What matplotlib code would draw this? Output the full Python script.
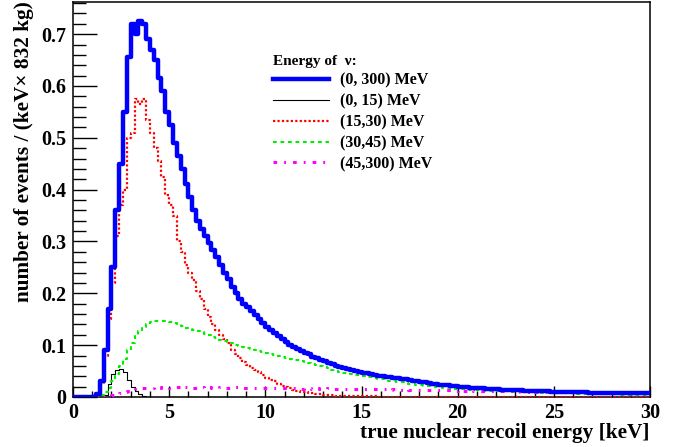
import numpy as np
import matplotlib
matplotlib.use("Agg")
import matplotlib.pyplot as plt
from matplotlib.ticker import MultipleLocator

# 0.2 keV bins from 0 to 30 keV
edges = np.linspace(0, 30, 151)

# total (0, 300) MeV
total = [
    0, 0, 0, 0, 0, 0, 0.005, 0.03, 0.09, 0.17,
    0.25, 0.36, 0.45, 0.55, 0.655, 0.72, 0.70, 0.725, 0.72, 0.69,
    0.67, 0.65, 0.615, 0.59, 0.55, 0.525, 0.49, 0.465, 0.44, 0.41,
    0.385, 0.36, 0.34, 0.325, 0.31, 0.297, 0.284, 0.27, 0.255, 0.24,
    0.228, 0.212, 0.2, 0.19, 0.18, 0.173, 0.165, 0.158, 0.15, 0.142,
    0.135, 0.129, 0.123, 0.117, 0.111, 0.106, 0.101, 0.097, 0.093, 0.089,
    0.085, 0.082, 0.078, 0.075, 0.072, 0.069, 0.066, 0.063, 0.06, 0.058,
    0.056, 0.054, 0.052, 0.05, 0.048, 0.047, 0.046, 0.044, 0.043, 0.041,
    0.04, 0.039, 0.038, 0.037, 0.036, 0.035, 0.034, 0.032, 0.031, 0.030,
    0.029, 0.028, 0.027, 0.026, 0.025, 0.024, 0.023, 0.023, 0.022, 0.021,
    0.020, 0.020, 0.019, 0.018, 0.018, 0.017, 0.017, 0.016, 0.016, 0.015,
    0.015, 0.014, 0.014, 0.014, 0.013, 0.013, 0.013, 0.012, 0.012, 0.012,
    0.011, 0.011, 0.011, 0.011, 0.010, 0.010, 0.010, 0.010, 0.0095, 0.0095,
    0.009, 0.009, 0.009, 0.009, 0.0085, 0.0085, 0.0085, 0.008, 0.008, 0.008,
    0.008, 0.0078, 0.0076, 0.0075, 0.0074, 0.0073, 0.0072, 0.0071, 0.007, 0.007,
]

# (0, 15) MeV
nu_0_15 = [
    0, 0, 0, 0, 0, 0, 0, 0, 0.003, 0.025,
    0.045, 0.052, 0.054, 0.048, 0.033, 0.02, 0.011, 0.005, 0.001, 0,
] + [0] * 130

# (15, 30) MeV
nu_15_30 = [
    0, 0, 0, 0, 0, 0, 0.004, 0.025, 0.08, 0.15,
    0.22, 0.31, 0.37, 0.40, 0.50, 0.51, 0.575, 0.565, 0.575, 0.535,
    0.51, 0.48, 0.455, 0.425, 0.39, 0.37, 0.35, 0.30, 0.28, 0.255,
    0.24, 0.225, 0.205, 0.19, 0.17, 0.155, 0.14, 0.13, 0.12, 0.112,
    0.105, 0.09, 0.082, 0.075, 0.068, 0.062, 0.056, 0.052, 0.048, 0.042,
    0.036, 0.033, 0.03, 0.025, 0.022, 0.02, 0.017, 0.014, 0.012, 0.010,
    0.009, 0.008, 0.007, 0.006, 0.005, 0.004, 0.0035, 0.003, 0.0025, 0.002,
    0.0018, 0.0016, 0.0015, 0.0014, 0.0013, 0.0012, 0.0011, 0.001, 0.001, 0.0009,
    0.0008, 0.0008, 0.0007, 0.0007, 0.0006, 0.0006, 0.0005, 0.0005, 0.0005, 0.0004,
] + [0.0003] * 60

# (30, 45) MeV
nu_30_45 = [
    0, 0, 0, 0, 0, 0, 0, 0.003, 0.01, 0.018,
    0.03, 0.045, 0.06, 0.074, 0.09, 0.105, 0.118, 0.128, 0.136, 0.141,
    0.144, 0.146, 0.147, 0.147, 0.146, 0.144, 0.142, 0.14, 0.137, 0.134,
    0.132, 0.13, 0.127, 0.125, 0.122, 0.119, 0.116, 0.113, 0.11, 0.108,
    0.106, 0.104, 0.101, 0.099, 0.097, 0.095, 0.093, 0.091, 0.089, 0.087,
    0.085, 0.083, 0.081, 0.079, 0.077, 0.075, 0.074, 0.072, 0.071, 0.069,
    0.067, 0.065, 0.063, 0.061, 0.059, 0.057, 0.055, 0.053, 0.051, 0.049,
    0.047, 0.046, 0.044, 0.043, 0.042, 0.04, 0.039, 0.038, 0.036, 0.035,
    0.034, 0.033, 0.031, 0.030, 0.029, 0.028, 0.027, 0.026, 0.025, 0.024,
    0.023, 0.022, 0.021, 0.021, 0.020, 0.019, 0.018, 0.018, 0.017, 0.016,
    0.016, 0.015, 0.015, 0.014, 0.014, 0.013, 0.013, 0.012, 0.012, 0.012,
    0.011, 0.011, 0.011, 0.010, 0.010, 0.010, 0.0095, 0.009, 0.009, 0.009,
    0.0085, 0.0085, 0.008, 0.008, 0.008, 0.0075, 0.0075, 0.007, 0.007, 0.007,
    0.0068, 0.0066, 0.0064, 0.0062, 0.006, 0.006, 0.0058, 0.0056, 0.0054, 0.0052,
    0.005, 0.005, 0.0048, 0.0047, 0.0046, 0.0045, 0.0044, 0.0043, 0.0042, 0.004,
]

# (45, 300) MeV
nu_45_300 = [
    0, 0, 0, 0, 0, 0, 0, 0, 0, 0.001,
    0.003, 0.005, 0.007, 0.009, 0.011, 0.013, 0.015, 0.016, 0.017, 0.018,
    0.018, 0.019, 0.018, 0.019, 0.019, 0.018, 0.019, 0.019, 0.018, 0.019,
    0.019, 0.018, 0.018, 0.019, 0.018, 0.019, 0.018, 0.018, 0.019, 0.018,
    0.018, 0.018, 0.019, 0.018, 0.018, 0.018, 0.017, 0.018, 0.018, 0.018,
    0.017, 0.018, 0.017, 0.017, 0.018, 0.017, 0.017, 0.017, 0.017, 0.016,
    0.017, 0.017, 0.016, 0.017, 0.016, 0.016, 0.017, 0.016, 0.016, 0.016,
    0.016, 0.015, 0.016, 0.016, 0.015, 0.016, 0.015, 0.015, 0.015, 0.015,
    0.015, 0.015, 0.014, 0.015, 0.014, 0.014, 0.015, 0.014, 0.014, 0.014,
    0.014, 0.013, 0.014, 0.013, 0.013, 0.014, 0.013, 0.013, 0.013, 0.012,
    0.013, 0.012, 0.012, 0.013, 0.012, 0.012, 0.012, 0.011, 0.012, 0.011,
    0.011, 0.012, 0.011, 0.011, 0.011, 0.010, 0.011, 0.010, 0.010, 0.011,
    0.010, 0.010, 0.010, 0.0095, 0.010, 0.0095, 0.0095, 0.009, 0.0095, 0.009,
    0.009, 0.009, 0.0088, 0.0088, 0.0086, 0.0086, 0.0085, 0.0084, 0.0083, 0.0082,
    0.0082, 0.0081, 0.008, 0.008, 0.0079, 0.0078, 0.0078, 0.0077, 0.0076, 0.0075,
]

labels = ["(0, 300) MeV", "(0, 15) MeV", "(15,30) MeV", "(30,45) MeV", "(45,300) MeV"]

plt.rcParams['font.family'] = ['Liberation Serif', 'DejaVu Serif']
plt.rcParams['font.weight'] = 'bold'

fig = plt.figure(figsize=(6.87, 4.47), dpi=100)
ax = fig.add_axes([73/687, 50/447, 577/687, 395.5/447])

def hstep(vals, **kw):
    y = np.append(vals, vals[-1])
    return ax.step(edges, y, where='post', **kw)[0]

h_tot = hstep(total, color='#0000ff', lw=3.2, zorder=5)
h_015 = hstep(nu_0_15, color='black', lw=0.8, zorder=4)
h_1530 = hstep(nu_15_30, color='#ff0000', lw=1.6, ls=(0, (1, 1)), zorder=4)
h_3045 = hstep(nu_30_45, color='#00ee00', lw=1.5, ls=(0, (1.8, 1.8)), zorder=4)
h_45 = hstep(nu_45_300, color='#ff00ff', lw=2.2, ls=(0, (1.2, 2.3, 0.6, 2.3)), zorder=4)

ax.set_xlim(0, 30)
ax.set_ylim(0, 0.763)
ax.xaxis.set_major_locator(MultipleLocator(5))
ax.xaxis.set_minor_locator(MultipleLocator(1))
ax.yaxis.set_major_locator(MultipleLocator(0.1))
ax.yaxis.set_minor_locator(MultipleLocator(0.02))
ax.xaxis.set_major_formatter(lambda v, p: f"{v:g}")
ax.yaxis.set_major_formatter(lambda v, p: f"{v:g}")
ax.tick_params(axis='both', which='both', direction='in', labelsize=14.5, width=1.0,
               top=False, right=False)
ax.tick_params(axis='x', which='major', length=8, pad=4)
ax.tick_params(axis='x', which='minor', length=4)
ax.tick_params(axis='y', which='major', length=17, pad=5)
ax.tick_params(axis='y', which='minor', length=9)
for s in ax.spines.values():
    s.set_linewidth(1.1)

ax.set_xlabel("true nuclear recoil energy [keV]", fontsize=15.3, fontweight='bold',
              loc='right', labelpad=0)
ax.set_ylabel("number of events / (keV\u00d7 832 kg)", fontsize=15.3, fontweight='bold',
              loc='top', labelpad=5)

leg = ax.legend([h_tot, h_015, h_1530, h_3045, h_45], labels,
                title="Energy of  \u03bd:", loc='upper left',
                bbox_to_anchor=(265/687, 1 - 47/447), bbox_transform=fig.transFigure,
                frameon=False, fontsize=11.5, title_fontsize=11,
                handlelength=3.5, handletextpad=0.7, labelspacing=0.3,
                borderpad=0, alignment='left')
leg.get_title().set_fontweight('bold')
for t in leg.get_texts():
    t.set_fontweight('bold')

fig.savefig("out.png", dpi=100)
